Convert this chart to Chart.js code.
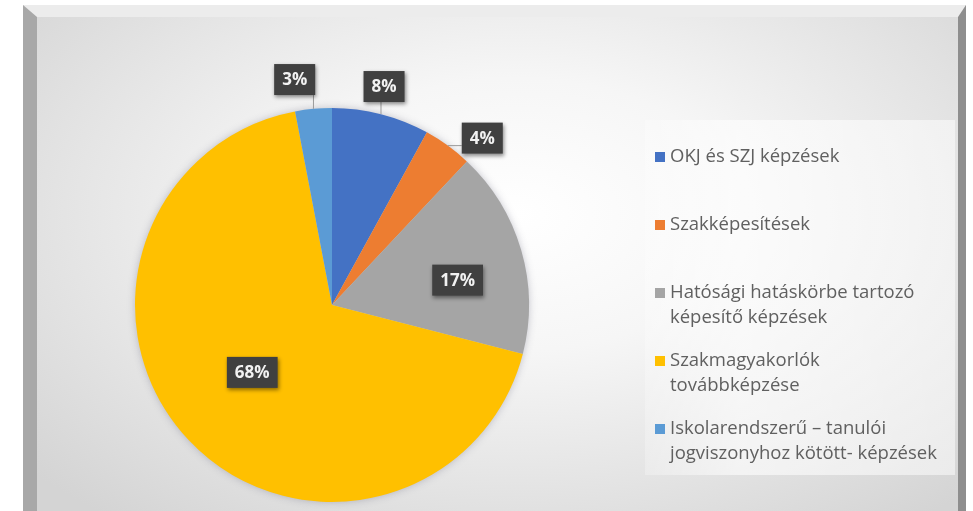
<!DOCTYPE html>
<html>
<head>
<meta charset="utf-8">
<script src="https://cdn.jsdelivr.net/npm/chart.js@4.4.0/dist/chart.umd.min.js"></script>
<style>
  html, body { margin: 0; padding: 0; background: #ffffff; }
  #wrap { position: relative; width: 973px; height: 511px; overflow: hidden; }
  #frame {
    position: absolute; left: 23px; top: 5px; width: 921px; height: 520px;
    border-left: 14px solid #a8a8a8; border-top: 12px solid #ececec; border-right: 8px solid #8e8e8e;
    background: radial-gradient(ellipse 70% 75% at 52% 38%, #ffffff 0%, #f6f6f6 35%, #e4e4e4 70%, #d4d4d4 100%);
  }
  #legendBox {
    position: absolute; left: 645px; top: 120px; width: 310px; height: 355px;
    background: linear-gradient(90deg, rgba(255,255,255,0.25), rgba(255,255,255,0.6) 30%, rgba(255,255,255,0.5));
  }
  canvas { position: absolute; left: 0; top: 0; }
</style>
</head>
<body>
<div id="wrap">
  <div id="frame"></div>
  <div id="legendBox"></div>
  <canvas id="c" width="973" height="511"></canvas>
</div>
<script>
const categories = [
  ["OKJ és SZJ képzések"],
  ["Szakképesítések"],
  ["Hatósági hatáskörbe tartozó", "képesítő képzések"],
  ["Szakmagyakorlók", "továbbképzése"],
  ["Iskolarendszerű – tanulói", "jogviszonyhoz kötött- képzések"]
];
const values = [8, 4, 17, 68, 3];
const percentLabels = ["8%", "4%", "17%", "68%", "3%"];

const sliceColors = ["#4472C4", "#ED7D31", "#A5A5A5", "#FFC000", "#5B9BD5"];

const pieShadow = {
  id: 'pieShadow',
  beforeDatasetsDraw(chart) {
    const arc = chart.getDatasetMeta(0).data[0];
    if (!arc) return;
    const ctx = chart.ctx;
    ctx.save();
    ctx.shadowColor = 'rgba(60,60,90,0.35)';
    ctx.shadowBlur = 9;
    ctx.beginPath();
    ctx.arc(arc.x, arc.y, arc.outerRadius - 1, 0, Math.PI * 2);
    ctx.fillStyle = '#cccccc';
    ctx.fill();
    ctx.restore();
  }
};

const boxLabels = {
  id: 'boxLabels',
  afterDatasetsDraw(chart, args, opts) {
    const ctx = chart.ctx;
    const meta = chart.getDatasetMeta(0);
    ctx.save();
    ctx.font = opts.font;
    meta.data.forEach((arc, i) => {
      const p = opts.place[i];
      const mid = (arc.startAngle + arc.endAngle) / 2 + p.da * Math.PI / 180;
      const R = arc.outerRadius;
      const cx = arc.x + Math.cos(mid) * R * p.r;
      const cy = arc.y + Math.sin(mid) * R * p.r;
      const text = percentLabels[i];
      const tw = ctx.measureText(text).width;
      const w = tw + opts.padX * 2, h = opts.boxH;
      const x0 = cx - w / 2, y0 = cy - h / 2;
      if (p.r > 1) {
        const am = (arc.startAngle + arc.endAngle) / 2;
        const ax = arc.x + Math.cos(am) * R, ay = arc.y + Math.sin(am) * R;
        const bx = Math.min(Math.max(ax, x0), x0 + w);
        const by = Math.min(Math.max(ay, y0), y0 + h);
        ctx.strokeStyle = '#9a9a9a';
        ctx.lineWidth = 1;
        ctx.beginPath();
        ctx.moveTo(ax, ay);
        ctx.lineTo(bx, by);
        ctx.stroke();
      }
      ctx.save();
      ctx.shadowColor = 'rgba(0,0,0,0.45)';
      ctx.shadowBlur = 4;
      ctx.shadowOffsetX = 1;
      ctx.shadowOffsetY = 2;
      ctx.fillStyle = '#404040';
      ctx.fillRect(x0, y0, w, h);
      ctx.restore();
      ctx.fillStyle = '#f2f2f2';
      ctx.textAlign = 'center';
      ctx.textBaseline = 'middle';
      ctx.fillText(text, cx, cy + 1);
    });
    ctx.restore();
  }
};

const sideLegend = {
  id: 'sideLegend',
  afterDraw(chart, args, opts) {
    const ctx = chart.ctx;
    const ds = chart.data.datasets[0];
    ctx.save();
    ctx.font = opts.font;
    ctx.textBaseline = 'middle';
    ctx.textAlign = 'left';
    chart.data.labels.forEach((lines, i) => {
      const y = opts.top + i * opts.step;
      ctx.fillStyle = ds.backgroundColor[i];
      ctx.fillRect(opts.left, y - opts.box / 2, opts.box, opts.box);
      ctx.fillStyle = opts.color;
      lines.forEach((ln, j) => {
        ctx.fillText(ln, opts.left + opts.box + opts.gap, y + j * opts.lineH);
      });
    });
    ctx.restore();
  }
};

new Chart(document.getElementById('c'), {
  type: 'pie',
  data: {
    labels: categories,
    datasets: [{
      data: values,
      backgroundColor: sliceColors,
      borderWidth: 0
    }]
  },
  options: {
    responsive: false,
    animation: false,
    layout: { padding: { left: 135, right: 444, top: 108, bottom: 9 } },
    plugins: {
      legend: { display: false },
      tooltip: { enabled: false },
      boxLabels: {
        font: 'bold 17px "Open Sans"',
        padX: 8,
        boxH: 31,
        place: [
          { r: 1.14, da: -1 },
          { r: 1.14, da: 6 },
          { r: 0.65, da: 5 },
          { r: 0.53, da: 3 },
          { r: 1.16, da: -4 }
        ]
      },
      sideLegend: {
        font: '18.5px "Open Sans"',
        color: '#606060',
        left: 655,
        top: 157,
        step: 68,
        lineH: 25,
        box: 10,
        gap: 5
      }
    }
  },
  plugins: [pieShadow, boxLabels, sideLegend]
});
</script>
</body>
</html>
